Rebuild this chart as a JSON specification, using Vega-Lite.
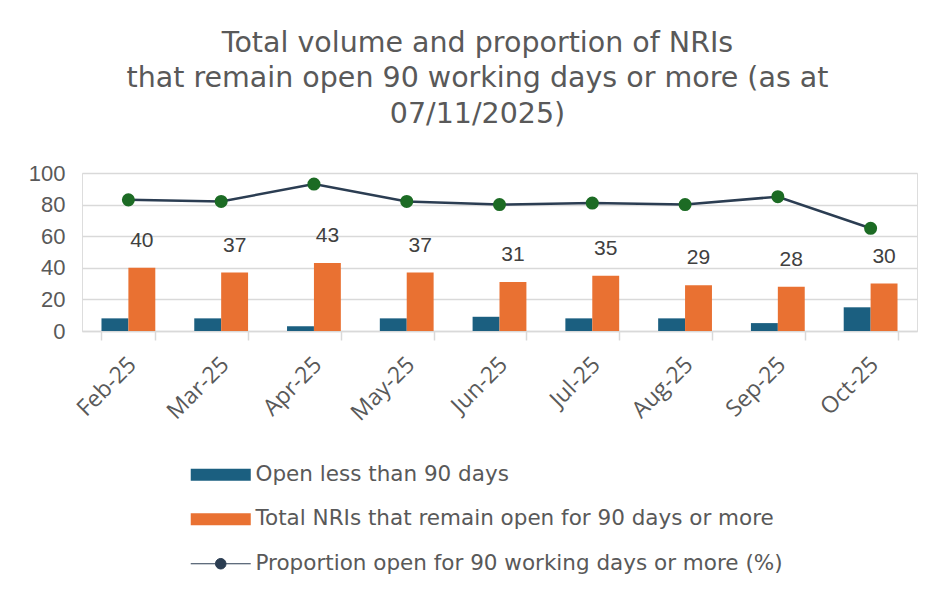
{
  "$schema": "https://vega.github.io/schema/vega-lite/v6.json",
  "width": 835,
  "height": 158,
  "padding": {"left": 28, "top": 28, "right": 30, "bottom": 10},
  "background": "white",
  "title": {
    "text": ["Total volume and proportion of NRIs", "that remain open 90 working days or more (as at", "07/11/2025)"],
    "font": "DejaVu Sans",
    "fontSize": 28.5,
    "fontWeight": "normal",
    "color": "#595959",
    "lineHeight": 35.5,
    "anchor": "middle",
    "dx": -22,
    "offset": 34
  },
  "data": {
    "values": [
      {"month": "Feb-25", "series": "Open less than 90 days", "value": 8},
      {"month": "Mar-25", "series": "Open less than 90 days", "value": 8},
      {"month": "Apr-25", "series": "Open less than 90 days", "value": 3},
      {"month": "May-25", "series": "Open less than 90 days", "value": 8},
      {"month": "Jun-25", "series": "Open less than 90 days", "value": 9},
      {"month": "Jul-25", "series": "Open less than 90 days", "value": 8},
      {"month": "Aug-25", "series": "Open less than 90 days", "value": 8},
      {"month": "Sep-25", "series": "Open less than 90 days", "value": 5},
      {"month": "Oct-25", "series": "Open less than 90 days", "value": 15},
      {"month": "Feb-25", "series": "Total NRIs that remain open for 90 days or more", "value": 40},
      {"month": "Mar-25", "series": "Total NRIs that remain open for 90 days or more", "value": 37},
      {"month": "Apr-25", "series": "Total NRIs that remain open for 90 days or more", "value": 43},
      {"month": "May-25", "series": "Total NRIs that remain open for 90 days or more", "value": 37},
      {"month": "Jun-25", "series": "Total NRIs that remain open for 90 days or more", "value": 31},
      {"month": "Jul-25", "series": "Total NRIs that remain open for 90 days or more", "value": 35},
      {"month": "Aug-25", "series": "Total NRIs that remain open for 90 days or more", "value": 29},
      {"month": "Sep-25", "series": "Total NRIs that remain open for 90 days or more", "value": 28},
      {"month": "Oct-25", "series": "Total NRIs that remain open for 90 days or more", "value": 30},
      {"month": "Feb-25", "series": "Proportion open for 90 working days or more (%)", "value": 83},
      {"month": "Mar-25", "series": "Proportion open for 90 working days or more (%)", "value": 82},
      {"month": "Apr-25", "series": "Proportion open for 90 working days or more (%)", "value": 93},
      {"month": "May-25", "series": "Proportion open for 90 working days or more (%)", "value": 82},
      {"month": "Jun-25", "series": "Proportion open for 90 working days or more (%)", "value": 80},
      {"month": "Jul-25", "series": "Proportion open for 90 working days or more (%)", "value": 81},
      {"month": "Aug-25", "series": "Proportion open for 90 working days or more (%)", "value": 80},
      {"month": "Sep-25", "series": "Proportion open for 90 working days or more (%)", "value": 85},
      {"month": "Oct-25", "series": "Proportion open for 90 working days or more (%)", "value": 65}
    ]
  },
  "encoding": {
    "x": {
      "field": "month",
      "type": "nominal",
      "sort": null,
      "scale": {"paddingInner": 0.42, "paddingOuter": 0.21},
      "axis": {
        "title": null,
        "labelAngle": -45,
        "labelFont": "Open Sans",
        "labelFontSize": 23,
        "labelColor": "#595959",
        "labelPadding": 13,
        "labelOffset": -4,
        "domainColor": "#D9D9D9",
        "domainWidth": 1.5,
        "tickColor": "#D9D9D9",
        "tickWidth": 1.5,
        "tickSize": 9,
        "tickBand": "extent",
        "grid": false
      }
    },
    "y": {
      "field": "value",
      "type": "quantitative",
      "scale": {"domain": [0, 100]},
      "axis": {
        "title": null,
        "values": [0, 20, 40, 60, 80, 100],
        "labelFont": "Liberation Sans",
        "labelFontSize": 22,
        "labelColor": "#595959",
        "labelPadding": 17,
        "ticks": false,
        "domain": false,
        "gridColor": "#D9D9D9",
        "gridWidth": 1.5
      }
    }
  },
  "layer": [
    {
      "transform": [{"filter": "datum.series !== 'Proportion open for 90 working days or more (%)'"}],
      "mark": {"type": "bar"},
      "encoding": {
        "xOffset": {"field": "series", "type": "nominal", "sort": null, "scale": {"paddingInner": 0, "paddingOuter": 0}},
        "color": {
          "field": "series",
          "type": "nominal",
          "scale": {
            "domain": ["Open less than 90 days", "Total NRIs that remain open for 90 days or more", "Proportion open for 90 working days or more (%)"],
            "range": ["#1B5F80", "#E97132", "#2B3D52"]
          },
          "legend": {
            "title": null,
            "orient": "none",
            "legendX": 128,
            "legendY": 291,
            "direction": "vertical",
            "padding": 0,
            "rowPadding": 21.5,
            "symbolSize": 1936,
            "symbolType": "M-1.364,-0.273H1.364V0.273H-1.364Z",
            "labelOffset": 24,
            "labelFont": "DejaVu Sans",
            "labelFontSize": 21.5,
            "labelColor": "#595959",
            "labelLimit": 700,
            "encode": {
              "symbols": {
                "update": {
                  "shape": {"signal": "datum.value === 'Proportion open for 90 working days or more (%)' ? 'M-1.364,0H-0.24M0.24,0H1.364M0.24,0A0.24,0.24,0,1,1,-0.24,0A0.24,0.24,0,1,1,0.24,0Z' : 'M-1.364,-0.273H1.364V0.273H-1.364Z'"},
                  "fill": {"signal": "datum.value === 'Proportion open for 90 working days or more (%)' ? '#1C6B24' : datum.value === 'Open less than 90 days' ? '#1B5F80' : '#E97132'"},
                  "stroke": {"signal": "datum.value === 'Proportion open for 90 working days or more (%)' ? '#2B3D52' : 'transparent'"},
                  "strokeWidth": {"signal": "datum.value === 'Proportion open for 90 working days or more (%)' ? 1 : 0"},
                  "opacity": {"value": 1},
                  "fillOpacity": {"value": 1},
                  "strokeOpacity": {"value": 1}
                }
              }
            }
          }
        }
      }
    },
    {
      "transform": [{"filter": "datum.series === 'Proportion open for 90 working days or more (%)'"}],
      "mark": {"type": "line", "strokeWidth": 2.5},
      "encoding": {
        "color": {"field": "series", "type": "nominal"}
      }
    },
    {
      "transform": [{"filter": "datum.series === 'Proportion open for 90 working days or more (%)'"}],
      "mark": {"type": "point", "filled": true, "size": 170, "color": "#1C6B24", "opacity": 1},
      "encoding": {}
    },
    {
      "transform": [{"filter": "datum.series === 'Total NRIs that remain open for 90 days or more'"}],
      "mark": {"type": "text", "dy": -27, "font": "Liberation Sans", "fontSize": 21, "color": "#404040"},
      "encoding": {
        "xOffset": {"field": "series", "type": "nominal", "sort": null},
        "text": {"field": "value", "type": "quantitative"}
      }
    }
  ]
}
